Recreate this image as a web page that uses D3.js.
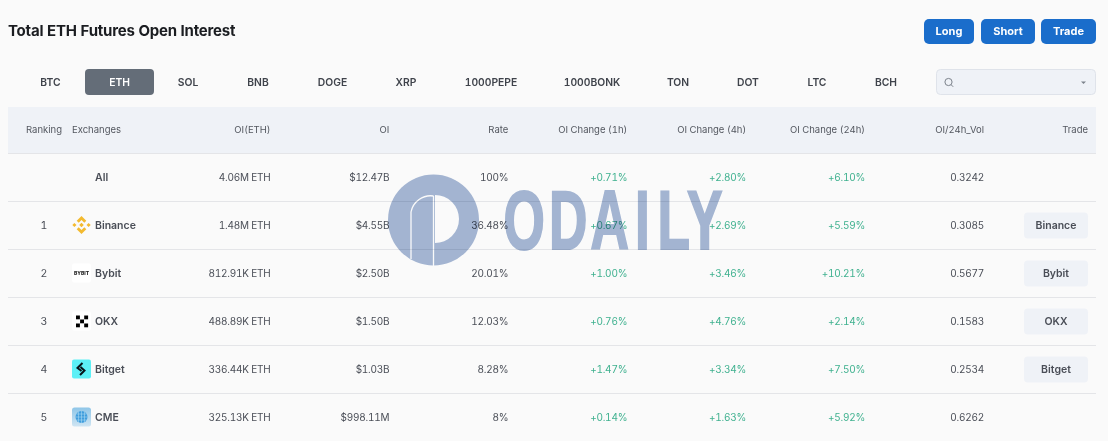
<!DOCTYPE html>
<html><head><meta charset="utf-8">
<script src="https://cdn.jsdelivr.net/npm/d3@7"></script>
<style>
html,body{margin:0;padding:0;background:#fafafa;overflow:hidden}
svg{display:block}
text{font-family:Inter,"Noto Sans",sans-serif;font-variant-numeric:tabular-nums}
</style></head><body><svg id="c" width="1108" height="441"></svg>
<script>
const title = "Total ETH Futures Open Interest";
const actions = ["Long","Short","Trade"];
const tabs = ["BTC","ETH","SOL","BNB","DOGE","XRP","1000PEPE","1000BONK","TON","DOT","LTC","BCH"];
const activeTab = "ETH";
const headers = ["OI(ETH)","OI","Rate","OI Change (1h)","OI Change (4h)","OI Change (24h)","OI/24h_Vol"];
const ranks = ["","1","2","3","4","5"];
const exchanges = ["All","Binance","Bybit","OKX","Bitget","CME"];
const oiEth = ["4.06M ETH","1.48M ETH","812.91K ETH","488.89K ETH","336.44K ETH","325.13K ETH"];
const oiUsd = ["$12.47B","$4.55B","$2.50B","$1.50B","$1.03B","$998.11M"];
const rate = ["100%","36.48%","20.01%","12.03%","8.28%","8%"];
const change1h = ["+0.71%","+0.67%","+1.00%","+0.76%","+1.47%","+0.14%"];
const change4h = ["+2.80%","+2.69%","+3.46%","+4.76%","+3.34%","+1.63%"];
const change24h = ["+6.10%","+5.59%","+10.21%","+2.14%","+7.50%","+5.92%"];
const oiVol = ["0.3242","0.3085","0.5677","0.1583","0.2534","0.6262"];
const tradeLinks = ["","Binance","Bybit","OKX","Bitget",""];

const svg = d3.select("#c");
const ink="#4a4e57", head="#53575f", green="#3fb18f", blue="#1a6dcb";

// title
svg.append("text").attr("x",8).attr("y",36).attr("font-size",15).attr("font-weight",700)
  .attr("fill","#1b1d21").attr("letter-spacing",-0.22).text(title);

// action buttons
const actionW=[50,54,55]; let ax=924;
actions.forEach((a,i)=>{
  svg.append("rect").attr("x",ax).attr("y",19).attr("width",actionW[i]).attr("height",25).attr("rx",5).attr("fill",blue);
  svg.append("text").attr("x",ax+actionW[i]/2).attr("y",35).attr("text-anchor","middle").attr("font-size",11)
    .attr("font-weight",700).attr("fill","#fff").text(a);
  ax+=actionW[i]+(i==0?7:6);
});

// tabs
const tabEdges=[16,85,154,222,294,371,441,541,643,713,783,851,921];
tabs.forEach((t,i)=>{
  const l=tabEdges[i], w=tabEdges[i+1]-l;
  if(t===activeTab) svg.append("rect").attr("x",l).attr("y",69).attr("width",w).attr("height",26).attr("rx",4).attr("fill","#646d78");
  svg.append("text").attr("x",l+w/2).attr("y",86).attr("text-anchor","middle").attr("font-size",10.3).attr("font-weight",600)
    .attr("fill",t===activeTab?"#fff":"#3f434b").text(t);
});

// search box
svg.append("rect").attr("x",936.5).attr("y",69.5).attr("width",159).attr("height",25).attr("rx",4).attr("fill","#eff2f7").attr("stroke","#dfe3ea");
svg.append("circle").attr("cx",948.5).attr("cy",82).attr("r",3.6).attr("fill","none").attr("stroke","#7c828b").attr("stroke-width",1);
svg.append("line").attr("x1",951).attr("y1",84.6).attr("x2",953.2).attr("y2",86.8).attr("stroke","#7c828b");
svg.append("path").attr("d","M1081 81.5h5l-2.5 2.5z").attr("fill","#7c828b");

// table scales
const y=d3.scaleBand().domain(d3.range(exchanges.length)).range([153,441]);
const x=d3.scalePoint().domain(headers).range([270.5,984]);
const columns=[oiEth,oiUsd,rate,change1h,change4h,change24h,oiVol];
const tableL=8,tableR=1096;

svg.append("rect").attr("x",tableL).attr("y",107).attr("width",tableR-tableL).attr("height",46).attr("fill","#eff2f7");
const hdr=(s,px,anchor)=>svg.append("text").attr("x",px).attr("y",133).attr("text-anchor",anchor).attr("font-size",9.5).attr("fill",head).text(s);
hdr("Ranking",44,"middle"); hdr("Exchanges",72,"start"); hdr("Trade",1088,"end");
headers.forEach(h=>hdr(h,x(h),"end"));

// row rules
svg.selectAll("line.r").data(d3.range(exchanges.length)).join("line").attr("class","r")
  .attr("x1",tableL).attr("x2",tableR).attr("y1",i=>y(i)+.5).attr("y2",i=>y(i)+.5).attr("stroke","#e4e5e8");

const cy=i=>y(i)+y.bandwidth()/2;
// ranks and names
svg.selectAll("text.rank").data(ranks).join("text").attr("class","rank").attr("x",44).attr("y",(d,i)=>cy(i)+4)
  .attr("text-anchor","middle").attr("font-size",10.5).attr("fill",ink).text(d=>d);
svg.selectAll("text.name").data(exchanges).join("text").attr("class","name").attr("x",95).attr("y",(d,i)=>cy(i)+4)
  .attr("font-size",10.5).attr("font-weight",600).attr("fill",ink).text(d=>d);

// numeric columns
columns.forEach((col,c)=>{
  const isChange=c>=3&&c<=5;
  svg.append("g").selectAll("text").data(col).join("text").attr("x",x(headers[c])).attr("y",(d,i)=>cy(i)+4)
    .attr("text-anchor","end").attr("font-size",10).attr("letter-spacing",-0.22).attr("fill",isChange?green:ink).text(d=>d);
});

// trade buttons
tradeLinks.forEach((t,i)=>{ if(!t) return;
  svg.append("rect").attr("x",1024).attr("y",cy(i)-12.5).attr("width",64).attr("height",26).attr("rx",4).attr("fill","#eff2f7");
  svg.append("text").attr("x",1056).attr("y",cy(i)+4.2).attr("text-anchor","middle").attr("font-size",10.5).attr("font-weight",600).attr("fill",ink).text(t);
});

// exchange logos
const logo=(i)=>svg.append("g").attr("transform",`translate(72,${cy(i)-9.5})`);
{ // Binance
  const g=logo(1), c="#f3ba2f";
  g.append("path").attr("fill",c).attr("d","M9.5 0.5l4.8 4.8-2 2-2.8-2.8-2.8 2.8-2-2zM9.5 18.5l-4.8-4.8 2-2 2.8 2.8 2.8-2.8 2 2zM2.4 7.4l2.1 2.1-2.1 2.1-2.1-2.1zM16.6 7.4l2.1 2.1-2.1 2.1-2.1-2.1zM9.5 7.2l2.3 2.3-2.3 2.3-2.3-2.3z");
}
{ // Bybit
  const g=logo(2);
  g.append("rect").attr("width",19).attr("height",19).attr("rx",2).attr("fill","#fff");
  g.append("text").attr("x",9.5).attr("y",11).attr("text-anchor","middle").attr("font-size",5).attr("font-weight",800).attr("fill","#222").text("BYBIT");
}
{ // OKX
  const g=logo(3);
  g.append("rect").attr("width",19).attr("height",19).attr("rx",2).attr("fill","#fff");
  [[4,4],[12.2,4],[8.1,8],[4,12],[12.2,12]].forEach(p=>g.append("rect").attr("x",p[0]).attr("y",p[1]).attr("width",3.9).attr("height",3.8).attr("fill","#000"));
}
{ // Bitget
  const g=logo(4);
  g.append("rect").attr("width",19).attr("height",19).attr("rx",2).attr("fill","#5cf0f6");
  g.append("path").attr("fill","none").attr("stroke","#07141a").attr("stroke-width",2).attr("d","M10.5 3.5L5.5 8.5l4 3M8.5 7.5l4 3.5-4.5 4.5");
}
{ // CME
  const g=logo(5);
  const d=svg.append("defs").append("linearGradient").attr("id","cme").attr("x1",0).attr("y1",0).attr("x2",0).attr("y2",1);
  d.append("stop").attr("offset",0).attr("stop-color","#8fc6e8");
  d.append("stop").attr("offset",1).attr("stop-color","#cfe5f3");
  g.append("rect").attr("width",19).attr("height",19).attr("rx",2.5).attr("fill","url(#cme)");
  g.append("circle").attr("cx",9.5).attr("cy",9.5).attr("r",6).attr("fill","#3f9ddd");
  g.append("path").attr("fill","none").attr("stroke","#a8d8f2").attr("stroke-width",.6).attr("d","M3.5 9.5h12M4.5 6.5h10M4.5 12.5h10M9.5 3.5v12M6.5 4.5v10M12.5 4.5v10");
}

// ODAILY watermark
const wm=svg.append("g").style("mix-blend-mode","multiply");
const mask=svg.append("defs").append("mask").attr("id","wm");
mask.append("rect").attr("x",380).attr("y",160).attr("width",110).attr("height",120).attr("fill","#fff");
mask.append("path").attr("fill","#000").attr("d","M435 195a24 24 0 0 1 0 48z");
mask.append("path").attr("fill","none").attr("stroke","#000").attr("stroke-width",1.3).attr("d","M411 259V212a20 20 0 0 1 22.5-16M433.5 196V270");
wm.append("circle").attr("cx",433.5).attr("cy",220).attr("r",45.5).attr("fill","#a6b8d6").attr("mask","url(#wm)");
const sx=0.64, wmX=[503.5,549,590.5,635,657.5,687];
wm.append("text").attr("transform",`scale(${sx},1)`).attr("x",wmX.map(v=>v/sx).join(" ")).attr("y",249)
  .attr("font-size",83).attr("font-weight",700).attr("fill","#a6b8d6").attr("stroke","#a6b8d6").attr("stroke-width",2)
  .style("font-family","'Liberation Sans Narrow','Liberation Sans',sans-serif").text("ODAILY");
</script></body></html>
